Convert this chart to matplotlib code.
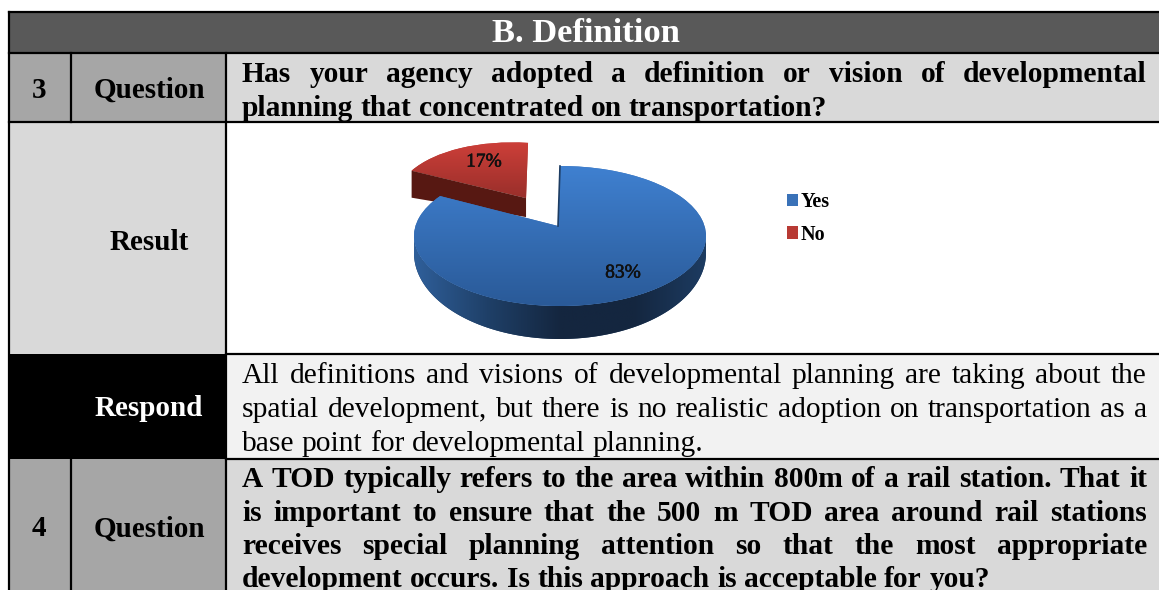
import numpy as np
import matplotlib
matplotlib.use("Agg")
import matplotlib.pyplot as plt
import matplotlib.patheffects as pe
from matplotlib.patches import Rectangle, Polygon
from matplotlib.path import Path
from matplotlib.colors import LinearSegmentedColormap

W, H = 1159, 590
SERIF = "Liberation Serif"

# ---- data ----
categories = ["Yes", "No"]
shares = [83, 17]
header = "B. Definition"
q3_lines = ["Has your agency adopted a definition or vision of developmental",
            "planning that concentrated on transportation?"]
resp_lines = ["All definitions and visions of developmental planning are taking about the",
              "spatial development, but there is no realistic adoption on transportation as a",
              "base point for developmental planning."]
q4_lines = ["A TOD typically refers to the area within 800m of a rail station. That it",
            "is important to ensure that the 500 m TOD area around rail stations",
            "receives special planning attention so that the most appropriate",
            "development occurs. Is this approach is acceptable for you?"]

fig = plt.figure(figsize=(W / 100, H / 100), dpi=100, facecolor="white")
ax = fig.add_axes([0, 0, 1, 1])
ax.set_xlim(0, W)
ax.set_ylim(H, 0)
ax.axis("off")

L, R = 9, W + 3
C1, C2 = 71, 226
Y0, Y1, Y2, Y3, Y4 = 12, 53, 122, 354, 459


def cell(x0, y0, x1, y1, fc):
    ax.add_patch(Rectangle((x0, y0), x1 - x0, y1 - y0, fc=fc, ec="none", zorder=1))


cell(L, Y0, R, Y1, "#595959")
cell(L, Y1, C2, Y2, "#a6a6a6")
cell(C2, Y1, R, Y2, "#d9d9d9")
cell(L, Y2, C2, Y3, "#d9d9d9")
cell(C2, Y2, R, Y3, "#ffffff")
cell(L, Y3, C2, Y4, "#000000")
cell(C2, Y3, R, Y4, "#f2f2f2")
cell(L, Y4, C2, H + 2, "#a6a6a6")
cell(C2, Y4, R, H + 2, "#d9d9d9")

for y, a, b in [(Y0, L, R), (Y1, L, R), (Y2, L, R), (Y3, C2, R), (Y4, C2, R)]:
    ax.plot([a, b], [y, y], color="black", lw=1.6, solid_capstyle="projecting", zorder=2)
for x, a, b in [(L, Y0, H + 2), (C2, Y1, H + 2), (C1, Y1, Y2), (C1, Y4, H + 2)]:
    ax.plot([x, x], [a, b], color="black", lw=1.6, solid_capstyle="projecting", zorder=2)

FS = 21


def label(x, y, s, color="black", size=FS, weight="bold"):
    ax.text(x, y, s, ha="center", va="center", family=SERIF, fontsize=size,
            fontweight=weight, color=color, zorder=3)


label(586, 34, header, "white", 24.8)
label(39, 90, "3")
label(149, 90, "Question")
label(149.5, 242, "Result")
label(149, 409, "Respond", "white")
label(39, 529, "4")
label(149, 529, "Question")

renderer = fig.canvas.get_renderer()
TX0, TX1 = 242, 1147
BODY = 21.25


def paragraph(lines, ys, weight):
    for i, (line, y) in enumerate(zip(lines, ys)):
        words = line.split(" ")
        arts = [ax.text(0, y, w, family=SERIF, fontsize=BODY, fontweight=weight,
                        ha="left", va="baseline", zorder=3) for w in words]
        widths = [a.get_window_extent(renderer).width for a in arts]
        space = ax.text(0, y, "n n", family=SERIF, fontsize=BODY, fontweight=weight)
        nn = ax.text(0, y, "nn", family=SERIF, fontsize=BODY, fontweight=weight)
        natural = space.get_window_extent(renderer).width - nn.get_window_extent(renderer).width
        space.remove()
        nn.remove()
        gap = natural
        if i < len(lines) - 1:
            gap = (TX1 - TX0 - sum(widths)) / (len(words) - 1)
        x = TX0
        for a, wd in zip(arts, widths):
            a.set_x(x)
            x += wd + gap


paragraph(q3_lines, [82, 116], "bold")
paragraph(resp_lines, [383, 417, 451], "normal")
paragraph(q4_lines, [487, 521, 554, 587], "bold")

# ---- pie inset ----
PX0, PX1, PY0, PY1 = 400, 720, 130, 345
CX, CY, A, B = 560, 236, 146, 70
pie = fig.add_axes([PX0 / W, 1 - PY1 / H, (PX1 - PX0) / W, (PY1 - PY0) / H])
blue, red = "#3a72b8", "#b83a34"
wedges, _, autos = pie.pie(shares, colors=[blue, red], startangle=90, counterclock=False,
                           explode=[0, 0.43], autopct="%d%%", radius=1,
                           textprops=dict(family=SERIF, fontsize=14, color="#101010"))
pie.set_aspect("auto")
pie.set_xlim((PX0 - CX) / A, (PX1 - CX) / A)
pie.set_ylim((CY - PY1) / B, (CY - PY0) / B)
pie.axis("off")

by, ry = wedges
# perspective of the original 3-D rendering: the visible gap edge looks rotated,
# the blue apex sits higher, the red wedge is smaller and tilted
by.set_theta1(by.theta1 - 6)
bc = np.array(by.center)
bp = by.get_path()
v = bp.vertices.copy()
v[np.all(np.isclose(v, bc), axis=1)] += [-2 / A, 10 / B]
by._path = Path(v, bp.codes)

rc = np.array(ry.center)
rp = ry.get_path()
v = rp.vertices.copy()
ismid = np.all(np.isclose(v, rc), axis=1)
v[~ismid] = rc + (v[~ismid] - rc) * [0.91, 0.96]
v[ismid] += [-2 / A, 12 / B]
tilt = (7 / B) / (116 / A)
v[:, 1] += np.where(v[:, 0] < rc[0], (rc[0] - v[:, 0]) * tilt, 0)
ry._path = Path(v, rp.codes)
by.set_zorder(5)
ry.set_zorder(3)


def vgrad(patch, c_top, c_bot, extent, z):
    cm = LinearSegmentedColormap.from_list("g", [c_top, c_bot])
    im = pie.imshow(np.linspace(0, 1, 64)[:, None], cmap=cm, extent=extent, aspect="auto",
                    origin="upper", zorder=z)
    im.set_clip_path(patch)


xl, yl = pie.get_xlim(), pie.get_ylim()
vgrad(by, "#3f80d0", "#2a5a98", (-1, 1, -1, 1), 5.1)
vgrad(ry, "#d0403a", "#8a2a26", (xl[0], 0.1, 0.3, 1.4), 3.1)
pie.set_xlim(xl)
pie.set_ylim(yl)

# blue side wall (lower ellipse is larger: perspective)
t = np.linspace(np.pi, 2 * np.pi, 120)
low_b = 86 / B
low_c = -17 / B
top = np.c_[np.cos(t), np.sin(t)]
low = np.c_[np.cos(t), low_c + low_b * np.sin(t)]
wall = Polygon(np.r_[top, low[::-1]], closed=True, fc="#1c3a60", ec="none", zorder=4)
pie.add_patch(wall)
side_cm = LinearSegmentedColormap.from_list(
    "s", ["#2f5f9a", "#1f4068", "#14263f", "#14263f", "#1d3c62"])
im = pie.imshow(np.linspace(0, 1, 256)[None, :], cmap=side_cm, extent=(-1, 1, -1.6, 0.2),
                aspect="auto", zorder=4.1)
im.set_clip_path(wall)
pie.set_xlim(xl)
pie.set_ylim(yl)

# red side wall, from the wedge's own outline
outline = ry.get_path().vertices
corner = outline[np.argmin(outline[:, 0])]
apex = rc + np.array([-2 / A, 12 / B])
pie.add_patch(Polygon([apex, corner, corner + [0, -27 / B], apex + [0, -19 / B]],
                      closed=True, fc="#571812", ec="none", zorder=3.5))

# inner blue edge
pie.plot([0, -2 / A], [1, 10 / B], color="#1d3c62", lw=1.2, zorder=5.5)

autos[0].set_position(((623 - CX) / A, (CY - 273) / B))
autos[1].set_position(((484 - CX) / A, (CY - 162) / B))
for a in autos:
    a.set_zorder(7)
    a.set_ha("center")
    a.set_va("center")
    a.set_path_effects([pe.withStroke(linewidth=0.4, foreground="#101010")])

leg = pie.legend(wedges, categories, loc="center left",
                 bbox_to_anchor=((787 - PX0) / (PX1 - PX0), 1 - (218.5 - PY0) / (PY1 - PY0)),
                 frameon=False, handlelength=0.56, handleheight=0.56, handletextpad=0.1,
                 labelspacing=0.6, borderpad=0, borderaxespad=0,
                 prop=dict(family=SERIF, size=14.5, weight="bold"))

fig.savefig("out.png", dpi=100)
